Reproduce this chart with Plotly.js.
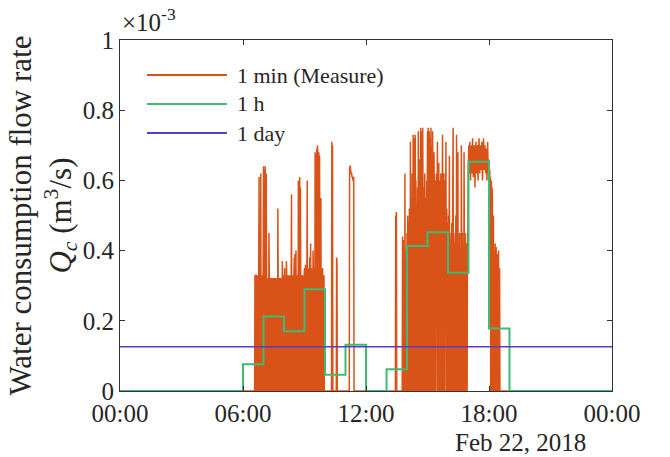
<!DOCTYPE html>
<html>
<head>
<meta charset="utf-8">
<script src="https://cdn.plot.ly/plotly-3.0.1.min.js"></script>
<style>html,body{margin:0;padding:0;background:#fff;}#chart{width:670px;height:457px;}</style>
</head>
<body>
<div id="chart"></div>
<script>
// Tick labels (x axis in hours of Feb 22, 2018)
const xTickVals = [0, 6, 12, 18, 24];
const xTickText = ['00:00', '06:00', '12:00', '18:00', '00:00'];
const dateLabel = 'Feb 22, 2018';

// 1-min measured flow, per active hour, 60 values each, unit 1e-5 m^3/s (hours not listed are 0)
const q1min_h06 = [0,0,0,0,0,0,0,0,0,0, 0,0,0,0,0,0,0,0,0,0, 0,0,0,0,0,0,0,0,0,0,
  0,0,0,0,0,33,0,33,33,0, 0,33,0,33,0,0,33,61,0,0, 33,0,62,0,33,0,0,33,0,33];
const q1min_h07 = [64,0,63,32,0,64,32,0,62,32, 0,32,32,0,32,0,45,32,0,32, 32,0,32,32,0,32,0,32,32,0,
  32,32,0,32,0,32,32,0,32,0, 32,0,52,32,0,32,32,0,32,0, 32,32,0,32,0,37,32,0,33,32];
const q1min_h08 = [33,0,35,0,33,0,0,37,33,0, 0,33,0,33,0,0,33,0,33,0, 0,33,56,0,33,0,33,0,0,33,
  38,0,39,33,0,40,0,33,0,0, 33,0,60,0,33,0,61,0,58,33, 0,0,33,0,33,0,0,33,0,33];
const q1min_h09 = [35,0,33,36,0,33,0,33,60,0, 33,0,35,33,0,38,0,33,42,0, 33,35,0,33,0,40,33,0,33,35,
  0,68,66,0,67,33,69,0,70,68, 0,33,68,0,67,33,0,35,55,0, 33,0,33,35,0,33,0,33,0,0];
const q1min_h10 = [0,0,0,0,0,0,0,0,0,0, 0,0,0,0,0,0,0,0,0,0, 71,0,70,0,0,0,0,0,0,0,
  0,0,0,0,38,37,0,0,0,0, 0,0,0,0,0,0,0,0,0,0, 0,0,0,0,0,0,0,0,0,0];
const q1min_h11 = [0,0,0,0,0,0,0,0,0,0, 0,0,63,64,64,63,62,62,62,61, 61,61,60,60,61,0,0,0,0,0,
  0,0,0,0,0,0,0,0,0,0, 0,0,0,0,0,0,0,0,0,0, 0,0,0,0,0,0,0,0,0,0];
const q1min_h13 = [0,0,0,0,0,0,0,0,0,0, 0,0,0,0,0,0,0,0,0,0, 0,0,0,0,0,0,0,50,0,51,
  0,0,0,0,0,0,0,0,0,0, 0,0,0,0,0,0,0,44,0,43, 0,0,0,0,62,0,0,33,40,0];
const q1min_h14 = [45,0,50,42,0,48,0,52,44,0, 71,0,55,47,0,62,50,0,73,48, 0,72,55,0,73,45,60,0,50,0,
  45,58,0,74,50,0,66,48,0,55, 75,0,60,74,48,0,75,52,0,58, 45,0,62,50,0,55,47,0,60,44];
const q1min_h15 = [74,0,75,55,0,74,50,0,72,0, 75,52,0,70,0,74,55,48,0,68, 55,0,60,52,48,0,62,55,50,71,
  0,58,52,65,0,60,50,55,0,62, 52,60,0,55,73,50,0,58,62,50, 0,55,60,48,71,0,52,50,0,48];
const q1min_h16 = [45,0,50,40,67,0,45,38,0,42, 0,48,40,0,60,75,0,45,40,0, 42,0,38,50,0,73,45,0,40,68,
  0,42,38,0,45,0,40,38,0,70, 40,0,45,0,38,42,0,68,40,0, 45,38,0,42,0,40,0,45,38,60];
const q1min_h17 = [66,70,62,68,71,64,60,67,70,65, 62,68,72,66,61,64,69,70,63,58, 65,68,71,67,62,66,70,64,60,67,
  69,72,65,62,68,70,66,63,67,71, 64,60,66,69,72,67,63,65,70,68, 62,66,69,64,60,67,71,65,62,66];
const q1min_h18 = [62,60,63,58,61,0,55,60,0,58, 55,0,45,50,0,40,0,0,42,0, 0,41,0,0,39,0,0,0,40,0,
  0,35,0,0,0,0,0,0,0,0, 0,0,0,0,0,0,0,0,0,0, 0,0,0,0,0,0,0,0,0,0];
const activeHours = [6, 7, 8, 9, 10, 11, 13, 14, 15, 16, 17, 18];
const activeData = [q1min_h06, q1min_h07, q1min_h08, q1min_h09, q1min_h10, q1min_h11,
  q1min_h13, q1min_h14, q1min_h15, q1min_h16, q1min_h17, q1min_h18];

// 1-h averages (x1e-3 m^3/s), hours 0..23
const q1h = [0,0,0,0,0,0, 0.076,0.212,0.170,0.290,0.046,0.132, 0,0.062,0.413,0.452,0.337,0.653, 0.178,0,0,0,0,0];
// 1-day average (x1e-3 m^3/s)
const q1day = 0.126;

const seriesNames = ['1 min (Measure)', '1 h', '1 day'];
const seriesColors = ['#D95319', '#3DBA76', '#5B3CC4'];

// build traces
const xMin = [], yMin = [];
for (let h = 0; h < 24; h++) {
  const k = activeHours.indexOf(h);
  for (let m = 0; m < 60; m++) {
    xMin.push(h + m / 60);
    yMin.push(k >= 0 ? activeData[k][m] / 100 : 0);
  }
}
xMin.push(24); yMin.push(0);

const xHour = [], yHour = [];
for (let h = 0; h < 24; h++) { xHour.push(h); yHour.push(q1h[h]); }
xHour.push(24); yHour.push(q1h[23]);

const traces = [
  {x: xMin, y: yMin, type: 'scatter', mode: 'lines', name: seriesNames[0],
   line: {color: seriesColors[0], width: 1.5, simplify: false}, hoverinfo: 'skip'},
  {x: xHour, y: yHour, type: 'scatter', mode: 'lines', name: seriesNames[1],
   line: {color: seriesColors[1], width: 2, shape: 'hv'}, hoverinfo: 'skip'},
  {x: [0, 24], y: [q1day, q1day], type: 'scatter', mode: 'lines', name: seriesNames[2],
   line: {color: seriesColors[2], width: 1.5}, hoverinfo: 'skip'}
];

const FONT = 'Liberation Serif';
const TXT = '#262626';
const axisCommon = {
  showline: true, linecolor: '#333333', linewidth: 1, mirror: 'ticks',
  ticks: 'inside', ticklen: 5, tickwidth: 1, tickcolor: '#333333',
  showgrid: false, zeroline: false, fixedrange: true,
  tickfont: {family: FONT, size: 25, color: TXT}
};

// custom legend (long line samples as in the reference)
const legendY = [0.900, 0.818, 0.735];
const shapes = [], annotations = [];
for (let i = 0; i < 3; i++) {
  shapes.push({type: 'line', xref: 'paper', yref: 'paper', x0: 0.055, x1: 0.2175,
    y0: legendY[i], y1: legendY[i], line: {color: seriesColors[i], width: 2}});
  annotations.push({xref: 'paper', yref: 'paper', x: 0.233, y: legendY[i], xanchor: 'left', yanchor: 'middle',
    text: seriesNames[i], showarrow: false, font: {family: FONT, size: 22, color: TXT}});
}
annotations.push({xref: 'paper', yref: 'paper', x: 0, y: 1, xanchor: 'left', yanchor: 'bottom', yshift: 2,
  text: '\u00d710<sup>-3</sup>', showarrow: false, font: {family: FONT, size: 25, color: TXT}});
annotations.push({xref: 'paper', yref: 'paper', x: 0.815, y: -0.148, xanchor: 'center', yanchor: 'middle',
  text: dateLabel, showarrow: false, font: {family: FONT, size: 25, color: TXT}});
annotations.push({xref: 'paper', yref: 'paper', x: -0.1585, y: 0.5, xanchor: 'center', yanchor: 'middle',
  textangle: -90, showarrow: false,
  text: 'Water consumption flow rate<br><i>Q</i><sub><i>c</i></sub> (m<sup>3</sup>/s)',
  font: {family: FONT, size: 31, color: TXT}});

const layout = {
  width: 670, height: 457,
  margin: {l: 120, r: 58, t: 40, b: 66, pad: 0},
  paper_bgcolor: '#ffffff', plot_bgcolor: '#ffffff',
  showlegend: false,
  font: {family: FONT, color: TXT},
  xaxis: Object.assign({}, axisCommon, {range: [0, 24], tickmode: 'array', tickvals: xTickVals, ticktext: xTickText}),
  yaxis: Object.assign({}, axisCommon, {range: [0, 1], tick0: 0, dtick: 0.2}),
  shapes: shapes,
  annotations: annotations
};

Plotly.newPlot('chart', traces, layout, {staticPlot: true, displayModeBar: false});
</script>
</body>
</html>
